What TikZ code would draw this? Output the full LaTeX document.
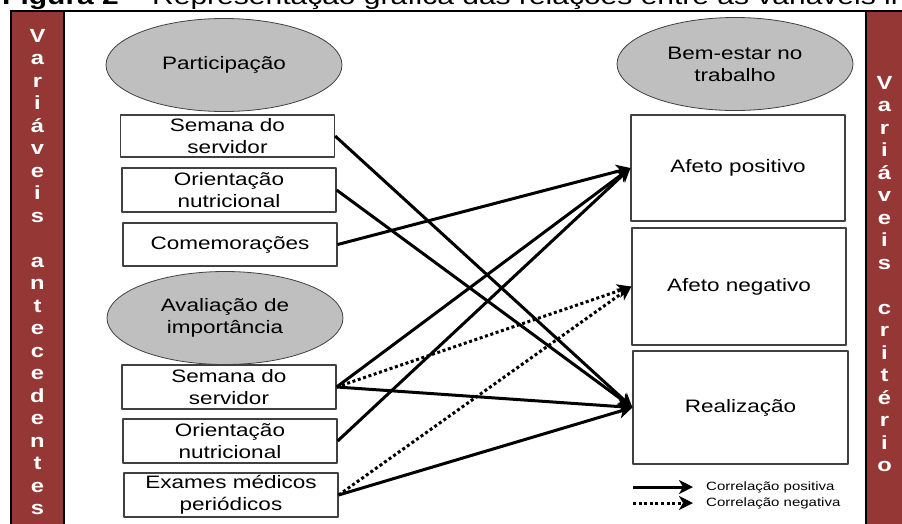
\documentclass[tikz,border=0pt]{standalone}
\usepackage{fontspec}
\setmainfont{Liberation Sans}[FakeStretch=1.25]
\usetikzlibrary{shapes.geometric,arrows.meta}
\definecolor{painel}{RGB}{149,55,53}
\definecolor{elipse}{RGB}{191,191,191}
\definecolor{borda}{RGB}{64,64,64}
\tikzset{
  grupo/.style={ellipse,draw=borda,line width=0.8pt,fill=elipse,minimum width=236pt,minimum height=93pt,align=center,inner sep=0pt,font=\fontsize{18}{22}\selectfont},
  varbox/.style={rectangle,draw=borda,line width=1.2pt,fill=white,align=center,inner sep=0pt,minimum width=214pt,font=\fontsize{18}{22}\selectfont},
  lateral/.style={text=white,align=center,inner sep=0pt,anchor=north,font=\fontsize{19}{22.5}\selectfont\bfseries},
  positiva/.style={line width=3pt,-{Stealth[length=14pt,width=14pt,inset=4pt]}},
  negativa/.style={positiva,dash pattern=on 3pt off 2.6pt},
}
\begin{document}
\begin{tikzpicture}[x=1pt,y=-1pt,line join=round]
\useasboundingbox (0,0) rectangle (902,523);
\clip (0,0) rectangle (902,523);

% title, cut by the top edge
\node[anchor=base west,inner sep=0pt,font=\fontsize{24}{28}\selectfont] (titulo) at (2,4) {\textbf{Figura 2} -- Representação gráfica das relações entre as variáveis in};

% side panels
\filldraw[fill=painel,line width=2pt] (11,11) rectangle (64,530);
\filldraw[fill=painel,line width=2pt] (866,11) rectangle (910,530);
\draw[line width=2.5pt] (10,11)--(902,11);
\node[lateral] (antecedentes) at (37.5,29) {V\\a\\r\\i\\á\\v\\e\\i\\s\\~\\a\\n\\t\\e\\c\\e\\d\\e\\n\\t\\e\\s};
\node[lateral] (criterio) at (884.5,76) {V\\a\\r\\i\\á\\v\\e\\i\\s\\~\\c\\r\\i\\t\\é\\r\\i\\o};

% groups
\node[grupo] (participacao) at (224,65) {Participação};
\node[grupo] (bemestar) at (735,64) {Bem-estar no\\trabalho};
\node[grupo] (avaliacao) at (225,318) {Avaliação de\\importância};

% antecedents
\node[varbox,minimum height=42pt] (semanaA) at (227.5,136) {Semana do\\servidor};
\node[varbox,minimum height=44pt] (orientA) at (229,190) {Orientação\\nutricional};
\node[varbox,minimum height=43pt] (comemor) at (230,244.5) {Comemorações};
\node[varbox,minimum height=44pt] (semanaB) at (229,387) {Semana do\\servidor};
\node[varbox,minimum height=44pt] (orientB) at (230,441) {Orientação\\nutricional};
\node[varbox,minimum height=44pt] (exames) at (231,495) {Exames médicos\\periódicos};

% criteria
\node[varbox,minimum height=106pt] (afetopos) at (738,168) {Afeto positivo};
\node[varbox,minimum height=117pt] (afetoneg) at (739,286.5) {Afeto negativo};
\node[varbox,minimum height=113pt,minimum width=215pt] (realizacao) at (740.5,407.5) {Realização};

% correlations
\draw[positiva] (semanaA.east)--(realizacao.west);
\draw[positiva] (orientA.east)--(realizacao.west);
\draw[positiva] (comemor.east)--(afetopos.west);
\draw[positiva] (semanaB.east)--(afetopos.west);
\draw[negativa] (semanaB.east)--(afetoneg.west);
\draw[positiva] (semanaB.east)--(realizacao.west);
\draw[positiva] (orientB.east)--(afetopos.west);
\draw[negativa] (exames.east)--(afetoneg.west);
\draw[positiva] (exames.east)--(realizacao.west);

% legend
\coordinate (legA) at (633,487);
\coordinate (legB) at (693,487);
\coordinate (legC) at (633,503);
\coordinate (legD) at (693,503);
\draw[positiva] (legA)--(legB);
\draw[negativa] (legC)--(legD);
\node[anchor=west,inner sep=0pt,font=\fontsize{12}{14}\selectfont] (legpos) at (706,487) {Correlação positiva};
\node[anchor=west,inner sep=0pt,font=\fontsize{12}{14}\selectfont] (legneg) at (706,503) {Correlação negativa};
\end{tikzpicture}
\end{document}
